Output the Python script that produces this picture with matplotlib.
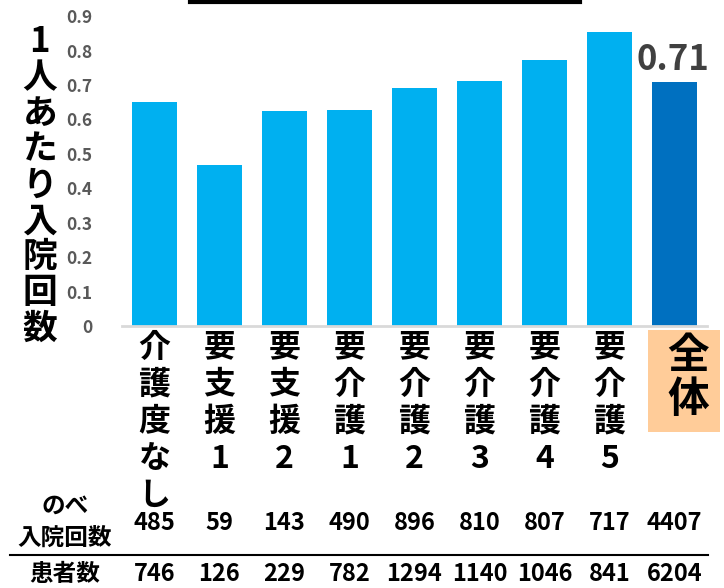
import numpy as np
import matplotlib.pyplot as plt
import matplotlib.lines as mlines
import matplotlib.patches as patches
import matplotlib.transforms as mtransforms

plt.rcParams['font.family'] = ['Noto Sans CJK JP', 'DejaVu Sans']
plt.rcParams['font.weight'] = 'bold'

categories = ['介護度なし', '要支援1', '要支援2', '要介護1', '要介護2',
              '要介護3', '要介護4', '要介護5', '全体']
rate = [0.650, 0.468, 0.624, 0.627, 0.692, 0.711, 0.772, 0.853, 0.710]
admissions = [485, 59, 143, 490, 896, 810, 807, 717, 4407]
patients = [746, 126, 229, 782, 1294, 1140, 1046, 841, 6204]
yticks = [0, 0.1, 0.2, 0.3, 0.4, 0.5, 0.6, 0.7, 0.8, 0.9]

fig = plt.figure(figsize=(7.24, 5.88), dpi=100)
ax = fig.add_axes([0.1685, 0.4456, 0.808, 0.527])

x = np.arange(len(categories))
colors = ['#00B0F0'] * (len(categories) - 1) + ['#0070C0']
ax.bar(x, rate, width=0.68, color=colors)

ax.set_xlim(-0.5, len(categories) - 0.5)
ax.set_ylim(0, 0.9)
ax.set_yticks(yticks)
ax.set_yticklabels(['0' if t == 0 else f'{t:.1f}' for t in yticks],
                   color='#595959', fontsize=12.5, fontweight='bold')
ax.tick_params(axis='y', length=0, pad=21)
ax.tick_params(axis='x', length=0, pad=4)
for s in ['top', 'right', 'left']:
    ax.spines[s].set_visible(False)
ax.spines['bottom'].set_color('#D9D9D9')
ax.spines['bottom'].set_linewidth(2)

# stacked category labels; the overall one is drawn separately with a box
ax.set_xticks(x)
ax.set_xticklabels(['\n'.join(c) for c in categories[:-1]] + [''], fontsize=23,
                   fontweight='bold', va='top', linespacing=1.2)
fig.add_artist(patches.Rectangle((648 / 724, 1 - 432 / 588), 72 / 724, 102 / 588,
                                 transform=fig.transFigure, facecolor='#FFCC99',
                                 edgecolor='none'))
fig.text(688 / 724, 1 - 378 / 588, '\n'.join(categories[-1]), ha='center', va='center',
         fontsize=30, fontweight='bold', linespacing=1.05)

# value label for the overall bar
ax.text(x[-1] - 0.03, rate[-1] + 0.012, f'{rate[-1]:.2f}', ha='center', va='bottom',
        fontsize=25, fontweight='bold', color='#404040')

# y label, stacked vertically
fig.text(0.055, 1 - 185 / 588, '\n'.join('1人あたり入院回数'), ha='center', va='center',
         fontsize=25, fontweight='bold', linespacing=1.03)

# table rows under the chart
tr = mtransforms.blended_transform_factory(ax.transData, fig.transFigure)
for xi, a, p in zip(x, admissions, patients):
    ax.text(xi, 1 - 523 / 588, str(a), transform=tr, ha='center', va='center',
            fontsize=17, fontweight='bold')
    ax.text(xi, 1 - 574 / 588, str(p), transform=tr, ha='center', va='center',
            fontsize=17, fontweight='bold')
fig.text(65 / 724, 1 - 522 / 588, 'のべ\n入院回数', ha='center', va='center',
         fontsize=17, fontweight='bold', linespacing=1.45)
fig.text(65 / 724, 1 - 574 / 588, '患者数', ha='center', va='center',
         fontsize=17, fontweight='bold')
fig.add_artist(mlines.Line2D([10 / 724, 708 / 724], [1 - 555 / 588] * 2,
                             color='black', lw=1.5))
fig.add_artist(mlines.Line2D([190 / 724, 580 / 724], [1 - 1.5 / 588] * 2,
                             color='black', lw=3))

fig.savefig('out.png', dpi=100)
